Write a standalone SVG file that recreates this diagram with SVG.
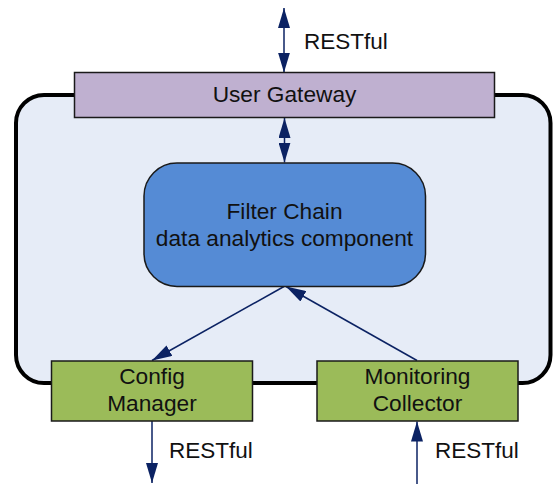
<svg xmlns="http://www.w3.org/2000/svg" width="556" height="484" viewBox="0 0 556 484">
<style>
  .t { font-family: "Liberation Sans", Arial, sans-serif; font-size: 22.7px; fill: #111; text-anchor: middle; }
  .lbl { font-family: "Liberation Sans", Arial, sans-serif; font-size: 22.5px; fill: #111; }
  .box { stroke: #1a1a1a; stroke-width: 1.5; }
  .conn { stroke: #0b2263; stroke-width: 1.5; fill: none; }
</style>
<defs>
  <marker id="ah" viewBox="0 0 20 12" refX="20" refY="6" markerWidth="20" markerHeight="12" markerUnits="userSpaceOnUse" orient="auto-start-reverse">
    <path d="M0,0 L20,6 L0,12 z" fill="#0b2263"/>
  </marker>
</defs>
<g id="outer">
  <rect x="16" y="95" width="534.5" height="288" rx="28" ry="28" fill="#e6ecf7" stroke="#000" stroke-width="4"/>
</g>
<g id="connectors">
  <line class="conn" x1="284" y1="8" x2="284" y2="72.5" marker-start="url(#ah)" marker-end="url(#ah)"/>
  <line class="conn" x1="284.5" y1="118" x2="284.5" y2="162.5" marker-start="url(#ah)" marker-end="url(#ah)"/>
  <line class="conn" x1="284" y1="286.5" x2="152" y2="360.5" marker-end="url(#ah)"/>
  <line class="conn" x1="417" y1="360.5" x2="286" y2="286.5" marker-end="url(#ah)"/>
  <line class="conn" x1="152" y1="421" x2="152" y2="483" marker-end="url(#ah)"/>
  <line class="conn" x1="417" y1="484" x2="417" y2="421.5" marker-end="url(#ah)"/>
</g>
<g id="user-gateway">
  <rect class="box" x="74.5" y="72.5" width="420" height="45" fill="#bfb0d0"/>
  <text class="t" x="284.5" y="102">User Gateway</text>
</g>
<g id="filter-chain">
  <rect class="box" x="144" y="163" width="281.5" height="123.5" rx="33" ry="33" fill="#558bd5"/>
  <text class="t" x="284.5" y="219">Filter Chain</text>
  <text class="t" x="284.5" y="245.5">data analytics component</text>
</g>
<g id="config-manager">
  <rect class="box" x="51.5" y="361" width="201" height="60" fill="#9bbb59"/>
  <text class="t" x="152" y="384">Config</text>
  <text class="t" x="152" y="410.5">Manager</text>
</g>
<g id="monitoring-collector">
  <rect class="box" x="317" y="361" width="201" height="60" fill="#9bbb59"/>
  <text class="t" x="417.5" y="384">Monitoring</text>
  <text class="t" x="417.5" y="410.5">Collector</text>
</g>
<g id="labels">
  <text class="lbl" x="304" y="49">RESTful</text>
  <text class="lbl" x="169" y="457.5">RESTful</text>
  <text class="lbl" x="435" y="457.5">RESTful</text>
</g>
</svg>
